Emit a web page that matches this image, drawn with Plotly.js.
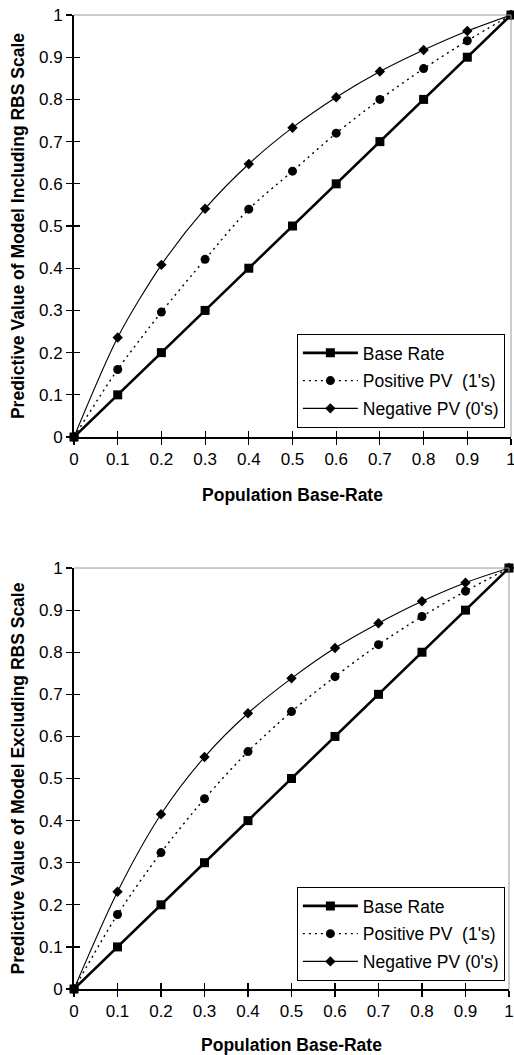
<!DOCTYPE html>
<html>
<head>
<meta charset="utf-8">
<script src="https://cdn.plot.ly/plotly-3.0.1.min.js"></script>
<style>html,body{margin:0;padding:0;background:#fff}#chart{width:514px;height:1055px}</style>
</head>
<body>
<div id="chart"></div>
<script>
// ---- data ----
const baseRateX = [0, 0.1, 0.2, 0.3, 0.4, 0.5, 0.6, 0.7, 0.8, 0.9, 1];
const baseRate = [0, 0.1, 0.2, 0.3, 0.4, 0.5, 0.6, 0.7, 0.8, 0.9, 1];
const incPositivePV = [0, 0.16, 0.296, 0.421, 0.54, 0.63, 0.72, 0.80, 0.873, 0.939, 1];
const incNegativePV = [0, 0.236, 0.408, 0.541, 0.647, 0.733, 0.805, 0.866, 0.917, 0.962, 1];
const excPositivePV = [0, 0.177, 0.324, 0.452, 0.564, 0.659, 0.742, 0.818, 0.885, 0.945, 1];
const excNegativePV = [0, 0.231, 0.415, 0.551, 0.655, 0.738, 0.810, 0.869, 0.921, 0.965, 1];
const seriesNames = ['Base Rate', 'Positive PV\u00a0\u00a0(1\'s)', 'Negative PV (0\'s)'];
const yTitles = ['Predictive Value of Model Including RBS Scale', 'Predictive Value of Model Excluding RBS Scale'];
const xTitle = 'Population Base-Rate';

function mk(xa, ya, leg, pos, neg) {
  return [
    {x: baseRateX, y: baseRate, xaxis: xa, yaxis: ya, legend: leg, name: seriesNames[0], legendgroup: leg + 'a',
     mode: 'lines+markers', line: {color: '#000', width: 2.6}, marker: {symbol: 'square', size: 9, color: '#000'}, cliponaxis: false},
    {x: baseRateX, y: pos, xaxis: xa, yaxis: ya, legend: leg, name: seriesNames[1], legendgroup: leg + 'b',
     mode: 'lines+markers', line: {color: '#000', width: 1.4, dash: '2px,4px', shape: 'spline', smoothing: 0.8}, marker: {symbol: 'circle', size: 9, color: '#000'}, cliponaxis: false},
    {x: baseRateX, y: neg, xaxis: xa, yaxis: ya, legend: leg, name: seriesNames[2], legendgroup: leg + 'c',
     mode: 'lines+markers', line: {color: '#000', width: 1.1, shape: 'spline', smoothing: 0.8}, marker: {symbol: 'diamond', size: 8, color: '#000'}, cliponaxis: false}
  ];
}
const data = [].concat(mk('x', 'y', 'legend', incPositivePV, incNegativePV), mk('x2', 'y2', 'legend2', excPositivePV, excNegativePV));

const tickFont = {family: 'Liberation Sans, Arial, sans-serif', size: 17, color: '#000'};
const titleFont = {family: 'Liberation Sans, Arial, sans-serif', size: 17.5, color: '#000', weight: 'bold'};
function xax(dom, anchor) {
  return {domain: dom, anchor: anchor, range: [0, 1], tick0: 0, dtick: 0.1, ticks: 'outside', ticklen: 6, tickwidth: 1.2, tickcolor: '#000',
    showline: true, linecolor: '#000', linewidth: 2, showgrid: false, zeroline: false, tickfont: tickFont, ticklabeloverflow: 'allow',
    title: {text: xTitle, font: titleFont, standoff: 20}};
}
function yax(dom, anchor, t) {
  return {domain: dom, anchor: anchor, range: [0, 1], tick0: 0, dtick: 0.1, ticks: 'outside', ticklen: 6, tickwidth: 1.2, tickcolor: '#000',
    showline: true, linecolor: '#000', linewidth: 2, showgrid: false, zeroline: false, tickfont: tickFont, ticklabeloverflow: 'allow',
    title: {text: t, font: titleFont, standoff: 10}};
}
function inner(over, dom, anchor) {
  return {overlaying: over, matches: over, domain: dom, anchor: anchor, range: [0, 1], tick0: 0, dtick: 0.1, ticks: 'inside', ticklen: 6, tickwidth: 1.2,
    tickcolor: '#000', showticklabels: false, showline: false, showgrid: false, zeroline: false};
}
const topDom = [0.5667, 1], botDom = [0, 0.4322];
const legBase = {x: 0.51, xanchor: 'left', yanchor: 'top', bgcolor: '#fff', bordercolor: '#000', borderwidth: 1,
  font: {family: 'Liberation Sans, Arial, sans-serif', size: 17.5, color: '#000'}, itemwidth: 55, traceorder: 'grouped', tracegroupgap: 2};

const layout = {
  width: 514, height: 1055, margin: {l: 74, r: 3, t: 15, b: 66}, paper_bgcolor: '#fff', plot_bgcolor: '#fff',
  xaxis: xax([0, 1], 'y'), yaxis: yax(topDom, 'x', yTitles[0]),
  xaxis2: xax([0, 0.9954], 'y2'), yaxis2: yax(botDom, 'x2', yTitles[1]),
  xaxis3: inner('x', [0, 1], 'y'), yaxis3: inner('y', topDom, 'x'),
  xaxis4: inner('x2', [0, 0.9954], 'y2'), yaxis4: inner('y2', botDom, 'x2'),
  legend: Object.assign({}, legBase, {y: 0.6725}),
  legend2: Object.assign({}, legBase, {y: 0.1047}),
  shapes: [
    {type: 'line', xref: 'x domain', yref: 'y domain', x0: 0, x1: 1, y0: 1, y1: 1, line: {color: '#999', width: 1}},
    {type: 'line', xref: 'x domain', yref: 'y domain', x0: 1, x1: 1, y0: 0, y1: 1, line: {color: '#999', width: 1}},
    {type: 'line', xref: 'x2 domain', yref: 'y2 domain', x0: 0, x1: 1, y0: 1, y1: 1, line: {color: '#999', width: 1}},
    {type: 'line', xref: 'x2 domain', yref: 'y2 domain', x0: 1, x1: 1, y0: 0, y1: 1, line: {color: '#999', width: 1}}
  ]
};
// invisible traces so the inner-tick overlay axes are drawn
data.push({x: [0], y: [0], xaxis: 'x3', yaxis: 'y3', mode: 'markers', marker: {opacity: 0}, showlegend: false, hoverinfo: 'skip'});
data.push({x: [0], y: [0], xaxis: 'x4', yaxis: 'y4', mode: 'markers', marker: {opacity: 0}, showlegend: false, hoverinfo: 'skip'});
Plotly.newPlot('chart', data, layout, {staticPlot: true, displayModeBar: false});
</script>
</body>
</html>
